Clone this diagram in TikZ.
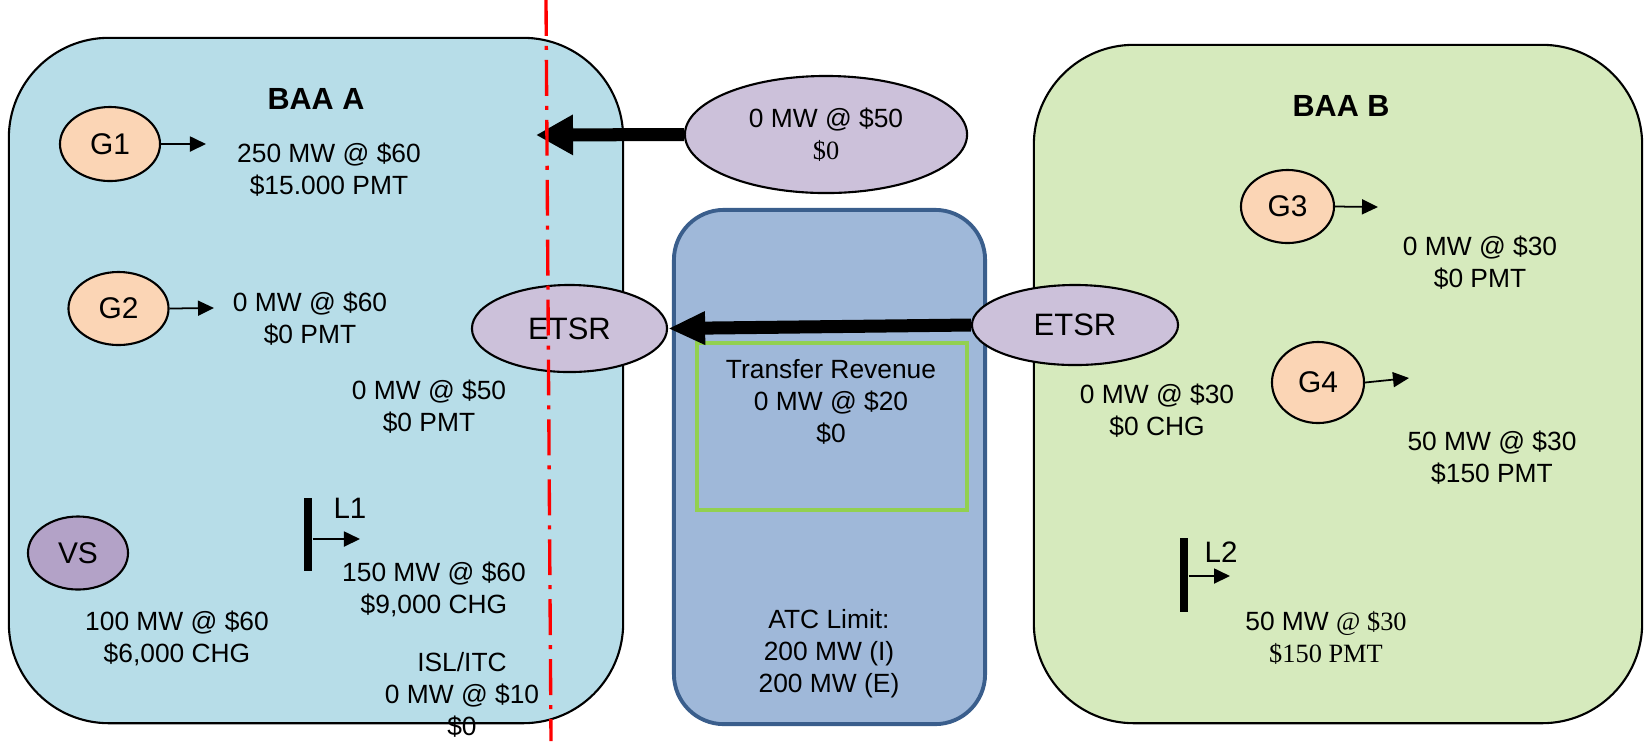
\documentclass[tikz,border=0pt]{standalone}
\usepackage{fontspec}
\setmainfont{Liberation Sans}
\newfontfamily\timesfont{Liberation Serif}
\usepackage{tikz}
\usetikzlibrary{shapes.geometric, arrows.meta, positioning}

\definecolor{baaAblue}{RGB}{183,221,232}
\definecolor{baaBgreen}{RGB}{214,234,189}
\definecolor{atcblue}{RGB}{159,184,217}
\definecolor{atcedge}{RGB}{58,94,140}
\definecolor{etsrlilac}{RGB}{204,193,218}
\definecolor{vspurple}{RGB}{179,162,199}
\definecolor{genpeach}{RGB}{251,213,181}
\definecolor{revgreen}{RGB}{146,208,80}

\tikzset{
  area/.style={draw, line width=0.6pt, rounded corners=1cm, inner sep=0pt},
  gen/.style={ellipse, draw, line width=0.6pt, fill=genpeach, inner sep=0pt,
    font=\fontsize{8.5}{10}\selectfont},
  etsr/.style={ellipse, draw, line width=0.6pt, fill=etsrlilac, inner sep=0pt},
  info/.style={align=center, inner sep=0pt, anchor=base,
    font=\fontsize{7.5}{9}\selectfont},
  areaname/.style={inner sep=0pt, anchor=base,
    font=\fontsize{8.7}{10}\selectfont\bfseries},
  flow/.style={-{Triangle[length=1.6mm,width=1.5mm]}, line width=0.5pt},
  bigflow/.style={-{Triangle[length=3.7mm,width=#1]}, line width=3.7pt},
  bigflow/.default=3.5mm,
  loadbar/.style={fill=black, inner sep=0pt, minimum width=0.08cm, minimum height=0.73cm},
  seam/.style={red, line width=0.95pt,
    dash pattern=on 10.2pt off 2.85pt on 1.14pt off 2.85pt},
}

\begin{document}
\begin{tikzpicture}[x=0.01cm, y=-0.01cm]
\useasboundingbox (0,0) rectangle (1645,741);

% balancing areas and the transfer path
\node[area, fill=baaAblue, minimum width=6.14cm, minimum height=6.85cm] (baaA) at (316,380.5) {};
\node[area, fill=baaBgreen, minimum width=6.08cm, minimum height=6.78cm] (baaB) at (1338,384) {};
\node[area, draw=atcedge, line width=1.1pt, rounded corners=0.5cm, fill=atcblue,
  minimum width=3.11cm, minimum height=5.14cm] (atc) at (829.5,467) {};
\node[draw=revgreen, line width=1.1pt, inner sep=0pt,
  minimum width=2.7cm, minimum height=1.67cm] (rev) at (832,426.5) {};

\node[areaname] (baaAname) at (316,109) {BAA A};
\node[areaname] (baaBname) at (1341,116) {BAA B};

% resources
\node[gen, minimum width=1cm, minimum height=0.74cm] (G1) at (110,144) {G1};
\node[gen, minimum width=1cm, minimum height=0.73cm] (G2) at (118.5,308.5) {G2};
\node[gen, fill=vspurple, minimum width=1cm, minimum height=0.73cm] (VS) at (78,553) {VS};
\node[gen, minimum width=0.93cm, minimum height=0.73cm] (G3) at (1287.5,206.5) {G3};
\node[gen, minimum width=0.92cm, minimum height=0.81cm] (G4) at (1318,382.5) {G4};

\node[etsr, minimum width=2.82cm, minimum height=1.17cm, align=center,
  font=\fontsize{7.5}{9}\selectfont] (sched) at (826,134.5) {0 MW @ \$50\\{\timesfont\$0}};
\node[etsr, minimum width=1.95cm, minimum height=0.87cm,
  font=\fontsize{8.8}{10}\selectfont] (etsrA) at (569.5,328.5) {ETSR};
\node[etsr, minimum width=2.06cm, minimum height=0.8cm,
  font=\fontsize{8.8}{10}\selectfont] (etsrB) at (1075,325) {ETSR};

% loads
\node[loadbar] (L1bar) at (308,534.5) {};
\node[loadbar] (L2bar) at (1184,575) {};
\node[info, font=\fontsize{8.4}{10}\selectfont] (L1name) at (350,518) {L1};
\node[info, font=\fontsize{8.4}{10}\selectfont] (L2name) at (1221,562) {L2};

% flows
\coordinate (g1out) at (206,144);
\coordinate (g2out) at (214,308);
\coordinate (g3out) at (1378,207);
\coordinate (g4out) at (1409,378);
\coordinate (l1out) at (360,539);
\coordinate (l2out) at (1230,576);
\coordinate (schedin) at (536,135);
\draw[flow] (G1.east) -- (g1out);
\draw[flow] (G2.east) -- (g2out);
\draw[flow] (G3.east) -- (g3out);
\draw[flow] (G4.east) -- (g4out);
\draw[flow] (L1bar.east |- l1out) -- (l1out);
\draw[flow] (L2bar.east |- l2out) -- (l2out);
\draw[bigflow=3.8mm] (sched.west) -- (schedin);
\draw[bigflow=3.1mm] (etsrB.west) -- (etsrA.east);

% quantities and settlements (placed by their last baseline)
\node[info] (g1txt) at (329,194) {250 MW @ \$60\\\$15.000 PMT};
\node[info] (g2txt) at (310,343) {0 MW @ \$60\\\$0 PMT};
\node[info] (etsrAtxt) at (429,431) {0 MW @ \$50\\\$0 PMT};
\node[info] (l1txt) at (434,613) {150 MW @ \$60\\\$9,000 CHG};
\node[info] (vstxt) at (177,662) {100 MW @ \$60\\\$6,000 CHG};
\node[info] (isltxt) at (462,735) {ISL/ITC\\0 MW @ \$10\\\$0};
\node[info] (revtxt) at (831,442) {Transfer Revenue\\0 MW @ \$20\\\$0};
\node[info] (atctxt) at (829,692) {ATC Limit:\\200 MW (I)\\200 MW (E)};
\node[info] (g3txt) at (1480,287) {0 MW @ \$30\\\$0 PMT};
\node[info] (etsrBtxt) at (1157,435) {0 MW @ \$30\\\$0 CHG};
\node[info] (g4txt) at (1492,482) {50 MW @ \$30\\\$150 PMT};
\node[info] (l2txt) at (1326,662) {50 MW {\timesfont @ \$30}\\{\timesfont\$150 PMT}};

% boundary
\draw[seam] (546,0) -- (551,741);
\end{tikzpicture}
\end{document}
